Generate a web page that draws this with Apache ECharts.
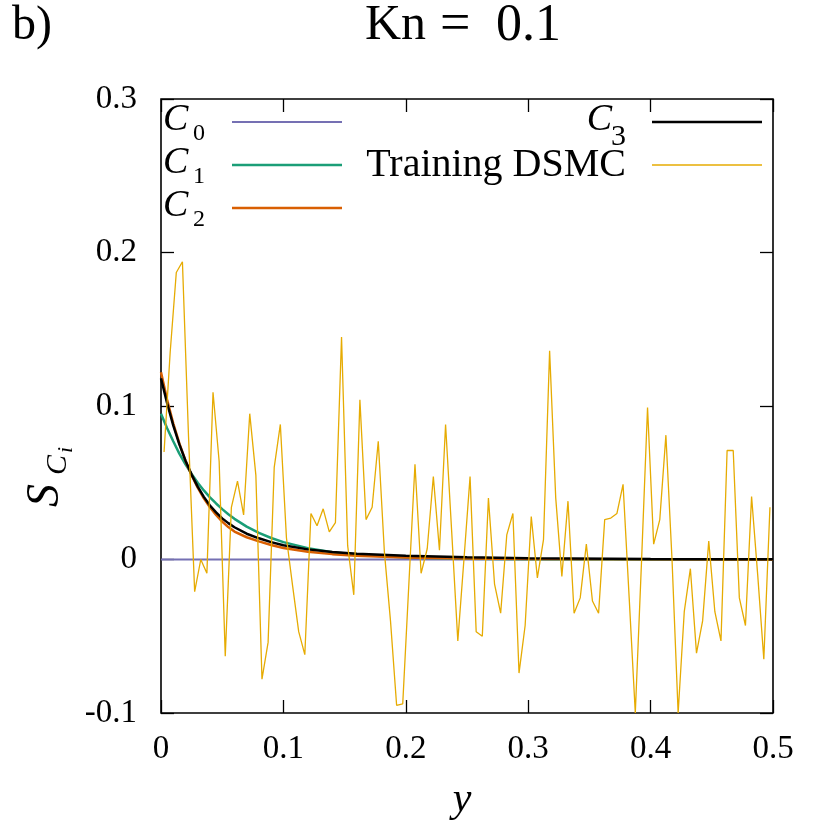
<!DOCTYPE html>
<html><head><meta charset="utf-8">
<script src="https://cdn.jsdelivr.net/npm/echarts@6/dist/echarts.min.js"></script>
<style>html,body{margin:0;padding:0;background:#fff}#c{width:830px;height:830px}</style>
</head><body><div id="c"></div>
<script>
// ---- data ----
const xTickLabels = ['0', '0.1', '0.2', '0.3', '0.4', '0.5'];
const yTickLabels = ['-0.1', '0', '0.1', '0.2', '0.3'];

const curveY = [0, 0.005, 0.01, 0.015, 0.02, 0.025, 0.03, 0.035, 0.04, 0.045, 0.05, 0.055, 0.06, 0.07, 0.08, 0.09, 0.1, 0.12, 0.14, 0.16, 0.2, 0.25, 0.3, 0.4, 0.5];
const c0Values = [0, 0, 0, 0, 0, 0, 0, 0, 0, 0, 0, 0, 0, 0, 0, 0, 0, 0, 0, 0, 0, 0, 0, 0, 0];
const c1Values = [0.095, 0.0855, 0.077, 0.069, 0.062, 0.0558, 0.050, 0.045, 0.0405, 0.0365, 0.0328, 0.0295, 0.0265, 0.0214, 0.0173, 0.014, 0.0113, 0.0074, 0.0048, 0.0032, 0.0013, 0.0005, 0.0002, 0.0, 0.0];
const c2Values = [0.122, 0.104, 0.0887, 0.0756, 0.0644, 0.0549, 0.0468, 0.0399, 0.034, 0.029, 0.0247, 0.0211, 0.0182, 0.0145, 0.0118, 0.0094, 0.0075, 0.0050, 0.0035, 0.0025, 0.0013, 0.0006, 0.0003, 0.0001, 0.0];
const c3Values = [0.118, 0.1018, 0.0874, 0.075, 0.0644, 0.0553, 0.0475, 0.0408, 0.0352, 0.0307, 0.0268, 0.0237, 0.021, 0.0168, 0.0138, 0.0113, 0.0093, 0.0066, 0.0049, 0.0038, 0.0024, 0.0014, 0.0008, 0.0003, 0.0001];

const dsmcY = [
  0.0025,0.0075,0.0125,0.0175,0.0225,0.0275,0.0325,0.0375,0.0425,0.0475,
  0.0525,0.0575,0.0625,0.0675,0.0725,0.0775,0.0825,0.0875,0.0925,0.0975,
  0.1025,0.1075,0.1125,0.1175,0.1225,0.1275,0.1325,0.1375,0.1425,0.1475,
  0.1525,0.1575,0.1625,0.1675,0.1725,0.1775,0.1825,0.1875,0.1925,0.1975,
  0.2025,0.2075,0.2125,0.2175,0.2225,0.2275,0.2325,0.2375,0.2425,0.2475,
  0.2525,0.2575,0.2625,0.2675,0.2725,0.2775,0.2825,0.2875,0.2925,0.2975,
  0.3025,0.3075,0.3125,0.3175,0.3225,0.3275,0.3325,0.3375,0.3425,0.3475,
  0.3525,0.3575,0.3625,0.3675,0.3725,0.3775,0.3825,0.3875,0.3925,0.3975,
  0.4025,0.4075,0.4125,0.4175,0.4225,0.4275,0.4325,0.4375,0.4425,0.4475,
  0.4525,0.4575,0.4625,0.4675,0.4725,0.4775,0.4825,0.4875,0.4925,0.4975
];
const dsmcValues = [
  0.070, 0.135, 0.187, 0.194, 0.080, -0.021, 0.000, -0.009, 0.109, 0.064,
  -0.063, 0.034, 0.051, 0.029, 0.095, 0.055, -0.078, -0.054, 0.060, 0.088,
  0.014, -0.017, -0.047, -0.062, 0.030, 0.022, 0.033, 0.018, 0.024, 0.145,
  0.009, -0.023, 0.104, 0.026, 0.034, 0.077, 0.005, -0.040, -0.095, -0.094,
  -0.016, 0.062, -0.009, 0.007, 0.054, 0.006, 0.088, 0.018, -0.053, 0.000,
  0.054, -0.047, -0.050, 0.040, -0.016, -0.035, 0.016, 0.030, -0.074, -0.043,
  0.028, -0.012, 0.013, 0.136, 0.040, -0.011, 0.038, -0.035, -0.025, 0.010,
  -0.027, -0.035, 0.026, 0.027, 0.030, 0.049, -0.025, -0.100, -0.003, 0.099,
  0.010, 0.026, 0.081, 0.000, -0.100, -0.034, -0.006, -0.061, -0.040, 0.012,
  -0.034, -0.053, 0.071, 0.071, -0.025, -0.043, 0.041, -0.010, -0.065, 0.034
];

// ---- chart ----
const SERIF = '"Liberation Serif", "Times New Roman", serif';
const COL = { c0: '#7570b3', c1: '#1b9e77', c2: '#d95f02', c3: '#000000', dsmc: '#e6ab02' };

function pairs(xs, ys) { return xs.map((x, i) => [x, ys[i]]); }

const tickStyle = { inside: true, length: 13, lineStyle: { color: '#000', width: 1.3 } };
const noLine = { show: false, onZero: false };
const labelStyle = { fontFamily: SERIF, fontSize: 33, color: '#000' };

const chart = echarts.init(document.getElementById('c'), null, { renderer: 'canvas' });

function txt(x, y, text, font, align, valign) {
  return { type: 'text', x: x, y: y, z: 100,
    style: { text: text, font: font, fill: '#000', textAlign: align || 'left', textVerticalAlign: valign || 'middle' } };
}
function legLine(x1, x2, y, color, w) {
  return { type: 'line', z: 100, shape: { x1: x1, y1: y, x2: x2, y2: y }, style: { stroke: color, lineWidth: w } };
}

const option = {
  animation: false,
  backgroundColor: '#fff',
  grid: { left: 161, top: 99, width: 612, height: 614, show: true, borderColor: '#000', borderWidth: 1.6, backgroundColor: 'transparent' },
  xAxis: [
    { type: 'value', min: 0, max: 0.5, interval: 0.1, position: 'bottom',
      axisLine: noLine, axisTick: tickStyle, splitLine: { show: false },
      axisLabel: Object.assign({ margin: 20, formatter: v => xTickLabels[Math.round(v * 10)] }, labelStyle) },
    { type: 'value', min: 0, max: 0.5, interval: 0.1, position: 'top',
      axisLine: noLine, axisTick: tickStyle, splitLine: { show: false }, axisLabel: { show: false } }
  ],
  yAxis: [
    { type: 'value', min: -0.1, max: 0.3, interval: 0.1, position: 'left',
      axisLine: noLine, axisTick: tickStyle, splitLine: { show: false },
      axisLabel: Object.assign({ margin: 24, formatter: v => yTickLabels[Math.round(v * 10) + 1] }, labelStyle) },
    { type: 'value', min: -0.1, max: 0.3, interval: 0.1, position: 'right',
      axisLine: noLine, axisTick: tickStyle, splitLine: { show: false }, axisLabel: { show: false } }
  ],
  series: [
    { name: 'C0', type: 'line', data: pairs(curveY, c0Values), showSymbol: false, lineStyle: { color: COL.c0, width: 2.2 }, z: 2 },
    { name: 'C1', type: 'line', data: pairs(curveY, c1Values), showSymbol: false, lineStyle: { color: COL.c1, width: 2.5 }, z: 3 },
    { name: 'C2', type: 'line', data: pairs(curveY, c2Values), showSymbol: false, lineStyle: { color: COL.c2, width: 2.5 }, z: 4 },
    { name: 'C3', type: 'line', data: pairs(curveY, c3Values), showSymbol: false, lineStyle: { color: COL.c3, width: 2.5 }, z: 5 },
    { name: 'Training DSMC', type: 'line', data: pairs(dsmcY, dsmcValues), showSymbol: false, lineStyle: { color: COL.dsmc, width: 1.3 }, z: 6 }
  ],
  graphic: [
    txt(12, 26, 'b)', '48px ' + SERIF),
    txt(365, 26, 'Kn', '50px ' + SERIF),
    txt(440, 26, '=', '54px ' + SERIF),
    txt(496, 26, '0.1', '52px ' + SERIF),
    txt(462, 800, 'y', 'italic 42px ' + SERIF, 'center'),
    { type: 'group', x: 46, y: 507, rotation: Math.PI / 2, z: 100,
      children: [
        { type: 'text', x: 0, y: 0, style: { text: 'S', font: 'italic 46px ' + SERIF, fill: '#000', textAlign: 'left', textVerticalAlign: 'middle' } },
        { type: 'text', x: 32, y: 12, style: { text: 'C', font: 'italic 30px ' + SERIF, fill: '#000', textAlign: 'left', textVerticalAlign: 'middle' } },
        { type: 'text', x: 54, y: 20, style: { text: 'i', font: 'italic 22px ' + SERIF, fill: '#000', textAlign: 'left', textVerticalAlign: 'middle' } }
      ] },
    // legend, left column
    txt(163, 120, 'C', 'italic 38px ' + SERIF), txt(193, 134, '0', '24px ' + SERIF),
    txt(163, 163, 'C', 'italic 38px ' + SERIF), txt(193, 177, '1', '24px ' + SERIF),
    txt(163, 206, 'C', 'italic 38px ' + SERIF), txt(193, 220, '2', '24px ' + SERIF),
    legLine(232, 342, 122, COL.c0, 2.2),
    legLine(232, 342, 165, COL.c1, 2.5),
    legLine(232, 342, 208, COL.c2, 2.5),
    // legend, right column
    txt(612, 120, 'C', 'italic 38px ' + SERIF, 'right'), txt(626, 137, '3', '30px ' + SERIF, 'right'),
    txt(626, 165, 'Training DSMC', '40px ' + SERIF, 'right'),
    legLine(652, 762, 122, COL.c3, 2.5),
    legLine(652, 762, 165, COL.dsmc, 1.3)
  ]
};
chart.setOption(option);
</script>
</body></html>
